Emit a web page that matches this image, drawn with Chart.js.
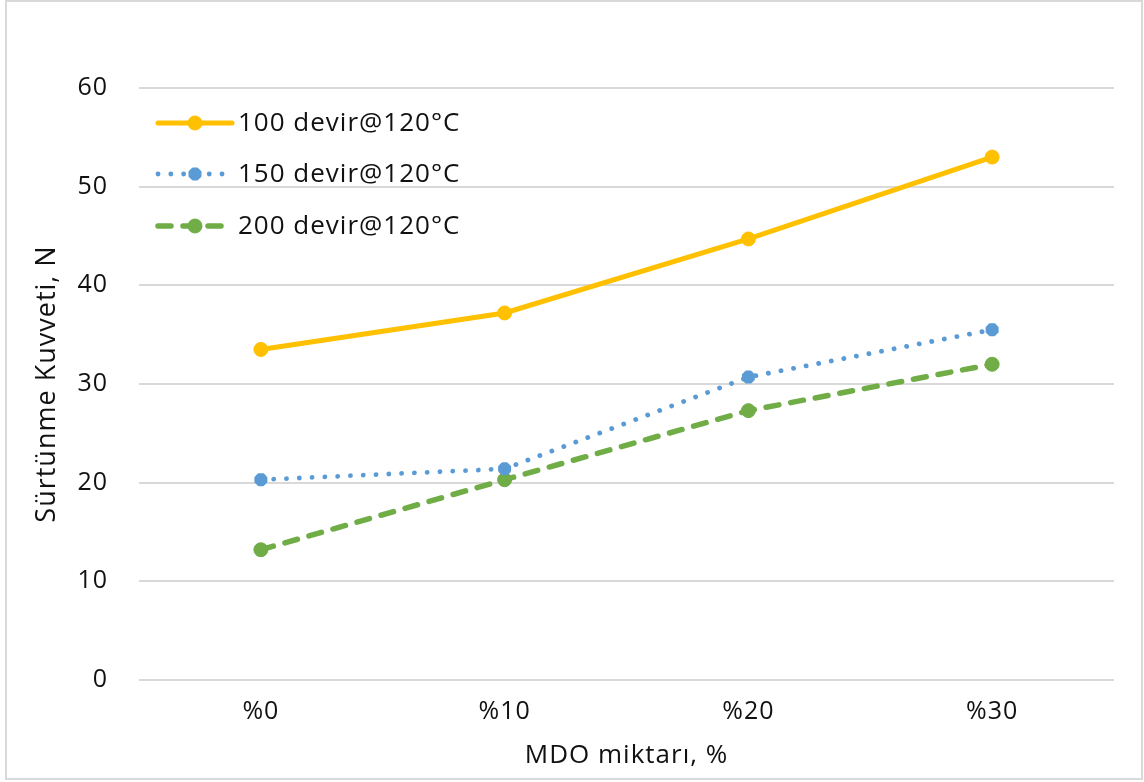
<!DOCTYPE html>
<html>
<head>
<meta charset="utf-8">
<script src="https://cdn.jsdelivr.net/npm/chart.js@4/dist/chart.umd.min.js"></script>
<style>
  html, body { margin: 0; padding: 0; background: #fff; }
  canvas { display: block; }
</style>
</head>
<body>
<canvas id="surtunme" width="1144" height="782"></canvas>
<script>
const categories = ['%0', '%10', '%20', '%30'];
const seriesNames = ['100 devir@120°C', '150 devir@120°C', '200 devir@120°C'];
const devir100 = [33.5, 37.2, 44.7, 53.0];
const devir150 = [20.3, 21.4, 30.7, 35.5];
const devir200 = [13.2, 20.3, 27.3, 32.0];
const yTicks = [0, 10, 20, 30, 40, 50, 60];

const FONT = '"Open Sans", Lato, "DejaVu Sans", sans-serif';
const TICK_SIZE = 25;
const LABEL_SIZE = 26;
const TEXT = '#111';

// white background, slightly wider lettering and the outer frame
const frame = {
  id: 'frame',
  beforeDraw(chart) {
    const ctx = chart.ctx;
    ctx.letterSpacing = '1px';
    ctx.save();
    ctx.fillStyle = '#fff';
    ctx.fillRect(0, 0, chart.width, chart.height);
    ctx.strokeStyle = '#d9d9d9';
    ctx.lineWidth = 2;
    ctx.strokeRect(6, 1, 1136, 778);
    ctx.restore();
  }
};

// legend drawn inside the plot, top left, with a line sample and marker
const inlineLegend = {
  id: 'inlineLegend',
  afterDraw(chart) {
    const ctx = chart.ctx;
    const x0 = 158, x1 = 232, rowY = [123, 174, 226];
    chart.data.datasets.forEach((ds, i) => {
      const y = rowY[i];
      ctx.save();
      ctx.strokeStyle = ds.borderColor;
      ctx.lineWidth = ds.borderWidth;
      ctx.lineCap = ds.borderCapStyle || 'butt';
      ctx.setLineDash(ds.borderDash || []);
      ctx.beginPath();
      ctx.moveTo(x0, y);
      ctx.lineTo(x1, y);
      ctx.stroke();
      ctx.setLineDash([]);
      ctx.lineWidth = ds.pointBorderWidth;
      ctx.lineCap = 'butt';
      ctx.fillStyle = ds.pointBackgroundColor;
      ctx.strokeStyle = ds.pointBorderColor;
      Chart.helpers.drawPoint(ctx, {
        pointStyle: ds.pointStyle,
        radius: ds.pointRadius,
        borderWidth: ds.pointBorderWidth,
        rotation: 0
      }, (x0 + x1) / 2, y);
      ctx.fillStyle = TEXT;
      ctx.font = LABEL_SIZE + 'px ' + FONT;
      ctx.textBaseline = 'middle';
      ctx.textAlign = 'left';
      ctx.fillText(ds.label, 238, y + 1);
      ctx.restore();
    });
  }
};

new Chart(document.getElementById('surtunme'), {
  type: 'line',
  data: {
    labels: categories,
    datasets: [{
      label: seriesNames[0],
      data: devir100,
      borderColor: '#FFC000',
      borderWidth: 5,
      borderCapStyle: 'round',
      pointStyle: 'circle',
      pointRadius: 7,
      pointBorderWidth: 1,
      pointBackgroundColor: '#FFC000',
      pointBorderColor: '#FFC000'
    }, {
      label: seriesNames[1],
      data: devir150,
      borderColor: '#5B9BD5',
      borderWidth: 4.8,
      borderCapStyle: 'round',
      borderDash: [0.1, 12.7],
      pointStyle: 'star',
      pointRadius: 6.5,
      pointBorderWidth: 5,
      pointBackgroundColor: '#5B9BD5',
      pointBorderColor: '#5B9BD5'
    }, {
      label: seriesNames[2],
      data: devir200,
      borderColor: '#70AD47',
      borderWidth: 5.5,
      borderCapStyle: 'round',
      borderDash: [13, 12],
      pointStyle: 'circle',
      pointRadius: 7,
      pointBorderWidth: 1,
      pointBackgroundColor: '#70AD47',
      pointBorderColor: '#70AD47'
    }]
  },
  options: {
    responsive: false,
    animation: false,
    layout: { padding: { top: 88, right: 30, left: 0, bottom: 0 } },
    plugins: {
      legend: { display: false },
      tooltip: { enabled: false }
    },
    scales: {
      x: {
        offset: true,
        grid: { display: false, drawTicks: false },
        border: { display: false },
        ticks: { color: TEXT, font: { family: FONT, size: TICK_SIZE }, padding: 17 },
        title: {
          display: true,
          text: 'MDO miktarı, %',
          color: TEXT,
          font: { family: FONT, size: LABEL_SIZE },
          padding: { top: 0, bottom: 11 }
        },
        afterFit(scale) { scale.height = 102; }
      },
      y: {
        min: 0,
        max: 60,
        afterBuildTicks(scale) { scale.ticks = yTicks.map(v => ({ value: v })); },
        grid: { color: '#d9d9d9', lineWidth: 2, drawTicks: false },
        border: { display: false },
        ticks: { color: TEXT, font: { family: FONT, size: TICK_SIZE }, padding: 31 },
        title: {
          display: true,
          text: 'Sürtünme Kuvveti, N',
          color: TEXT,
          font: { family: FONT, size: 27 },
          padding: { top: 31, bottom: 0 }
        },
        afterFit(scale) { scale.width = 139; }
      }
    }
  },
  plugins: [frame, inlineLegend]
});
</script>
</body>
</html>
